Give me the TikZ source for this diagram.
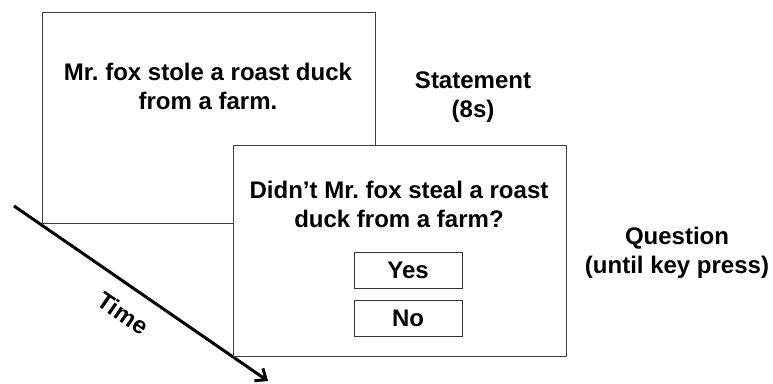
\documentclass[tikz,border=0pt]{standalone}
\usepackage{fontspec}
\setmainfont{Liberation Sans}
\usetikzlibrary{arrows.meta}
\frenchspacing
\begin{document}
\begin{tikzpicture}[x=1pt,y=-1pt,
  screen/.style={draw=black!75, line width=1pt, fill=white},
  txt/.style={font=\fontsize{24}{29}\selectfont\bfseries, align=center, inner sep=0pt},
  btn/.style={draw=black!80, line width=1pt, fill=white, minimum width=108pt, minimum height=36pt, inner sep=0pt, font=\fontsize{24}{29}\selectfont\bfseries}]
\useasboundingbox (0,0) rectangle (773,383);
\fill[white] (0,0) rectangle (773,383);
% first screen
\draw[screen] (42,12) rectangle (375,223);
\node[txt] (s1) at (208,86) {Mr.\ fox stole a roast duck\\from a farm.};
% time arrow
\coordinate (t0) at (14,206);
\coordinate (t1) at (268,381);
\draw[line width=3pt, -{Straight Barb[length=9pt,width=15pt,line width=3pt]}] (t0) -- (t1);
% second screen
\draw[screen] (233,145) rectangle (566,356);
\node[txt] (q) at (399,204) {Didn’t Mr.\ fox steal a roast\\duck from a farm?};
\node[btn] (yes) at (408,270) {Yes};
\node[btn] (no) at (408,318.5) {No};
% labels
\node[txt] (stmt) at (473,97) {Statement\\(8s)};
\node[txt] (ques) at (677,253) {Question\\(until key press)};
\node[txt, rotate=-34.5] (time) at (123,313) {Time};
\end{tikzpicture}
\end{document}
